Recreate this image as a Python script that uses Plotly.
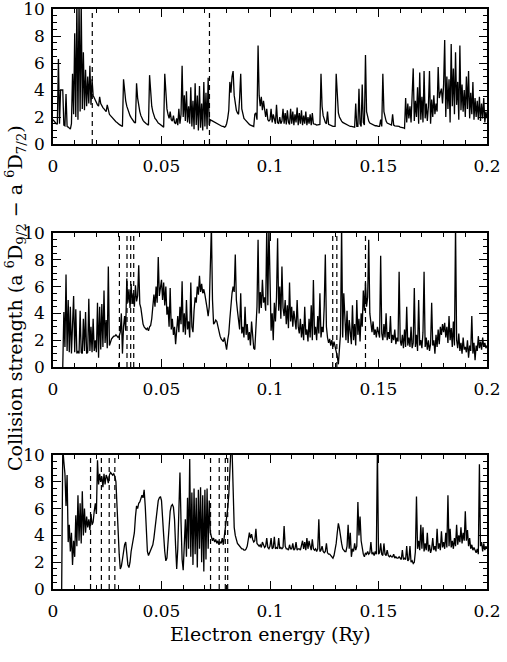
import plotly.graph_objects as go

# Energy mesh (Ry), step 0.0005 from 0 to 0.2
energy = [round(i * 0.0005, 4) for i in range(401)]

# Panel 1 collision strengths
omega_1 = [
    1.8, 1.7, 1.6, 1.5, 1.5, 6.3, 1.5, 4.0, 4.0, 4.0,
    1.4, 1.35, 3.7, 1.3, 1.25, 1.2, 1.1, 1.5, 5.2, 2.2,
    8.2, 2.0, 10.5, 1.8, 10.5, 2.4, 10.5, 2.6, 6.8, 2.5,
    5.5, 2.8, 5.0, 3.0, 5.8, 2.9, 4.8, 3.6, 3.4, 3.2,
    3.0, 2.9, 2.8, 3.5, 3.0, 2.8, 2.7, 2.6, 2.5, 2.4,
    2.9, 2.4, 2.2, 2.1, 2.0, 1.9, 1.8, 1.7, 1.65, 1.6,
    1.5, 1.45, 1.4, 1.35, 1.3, 4.8, 3.9, 3.2, 2.8, 2.5,
    2.3, 2.1, 1.95, 1.8, 1.7, 1.6, 1.55, 4.5, 3.4, 2.8,
    2.4, 2.1, 1.9, 1.75, 1.65, 1.55, 1.5, 1.45, 1.4, 5.1,
    3.6, 2.8, 2.4, 2.1, 1.9, 1.8, 1.65, 1.55, 1.5, 1.45,
    1.4, 1.3, 1.25, 5.2, 3.4, 2.6, 2.2, 1.9, 2.4, 1.8,
    1.7, 2.1, 1.6, 1.5, 1.9, 1.4, 2.6, 1.5, 2.2, 5.8,
    2.0, 3.6, 1.7, 3.9, 1.6, 2.8, 1.5, 4.2, 1.3, 3.2,
    1.1, 4.5, 1.4, 3.6, 1.0, 4.3, 1.2, 3.0, 1.0, 4.6,
    1.3, 3.8, 1.1, 4.9, 1.4, 1.8, 1.75, 1.7, 1.65, 1.6,
    1.55, 1.5, 1.45, 1.4, 1.4, 1.35, 1.3, 1.3, 1.25, 1.3,
    1.5, 1.9, 2.5, 4.6, 3.8, 5.0, 5.4, 3.6, 2.8, 2.5,
    2.3, 2.2, 3.4, 5.2, 2.6, 2.1, 1.9, 1.8, 1.7, 1.6,
    1.5, 1.45, 1.4, 1.35, 1.3, 1.3, 2.2, 2.3, 1.8, 7.3,
    3.6, 2.8, 3.5, 2.5, 3.2, 2.3, 2.0, 2.6, 1.8, 1.7,
    1.8, 2.6, 1.6, 2.2, 1.7, 1.5, 2.9, 1.6, 1.5, 2.0,
    1.5, 1.7, 2.6, 1.5, 2.3, 1.45, 2.5, 1.6, 1.45, 2.6,
    1.5, 2.4, 1.4, 2.2, 1.6, 2.7, 1.4, 2.3, 1.5, 2.5,
    1.4, 2.1, 1.5, 2.4, 1.4, 2.0, 1.5, 2.2, 1.4, 2.3,
    1.5, 1.5, 1.45, 1.4, 1.4, 1.4, 1.45, 5.2, 2.8, 2.1,
    1.8, 1.6, 1.5, 2.4, 1.45, 1.4, 1.35, 1.35, 1.3, 1.3,
    1.3, 5.2, 3.0, 2.3, 2.0, 1.8, 1.7, 1.6, 1.55, 1.5,
    1.45, 1.4, 1.4, 1.35, 1.3, 1.3, 1.3, 1.25, 1.25, 3.0,
    1.3, 1.3, 4.1, 1.5, 1.3, 4.4, 1.6, 1.4, 6.6, 2.4,
    1.9, 1.7, 1.55, 1.5, 1.45, 1.4, 1.4, 1.35, 1.35, 1.3,
    1.3, 1.3, 1.8, 1.3, 5.2, 2.4, 1.9, 1.7, 1.55, 1.5,
    1.45, 1.4, 1.4, 2.2, 1.4, 1.35, 1.35, 1.3, 1.3, 1.3,
    1.25, 1.25, 1.2, 1.2, 1.15, 3.4, 1.6, 3.0, 1.9, 2.8,
    1.6, 3.6, 5.6, 1.7, 3.2, 2.0, 4.2, 1.5, 5.3, 1.8,
    3.5, 1.6, 5.4, 1.9, 3.0, 1.7, 2.8, 5.4, 1.5, 3.3,
    2.0, 3.6, 2.2, 3.0, 2.4, 5.7, 3.4, 3.8, 4.1, 3.0,
    4.4, 7.7, 2.0, 5.0, 2.6, 4.8, 1.6, 7.4, 2.8, 5.6,
    2.2, 6.8, 2.9, 4.6, 1.8, 7.3, 2.5, 4.4, 2.4, 4.0,
    2.0, 5.0, 2.6, 5.4, 1.9, 3.8, 2.2, 4.6, 1.8, 3.4,
    2.0, 3.2, 1.8, 3.5, 1.7, 3.0, 1.9, 3.4, 1.6, 2.4,
    1.9,
]

# Panel 2 collision strengths
omega_2 = [
    None, None, None, None, None, None, None, None, None, 0.0,
    4.1, 1.5, 6.9, 1.2, 5.0, 1.1, 4.5, 1.0, 3.2, 5.3,
    1.1, 4.3, 1.0, 1.2, 1.0, 4.2, 1.1, 1.0, 3.6, 1.2,
    4.1, 1.0, 1.1, 5.1, 1.2, 3.0, 1.1, 3.6, 1.2, 2.0,
    1.1, 4.8, 0.7, 4.5, 1.3, 4.7, 1.5, 5.7, 1.8, 3.5,
    1.4, 7.5, 1.6, 1.9, 2.1, 2.2, 2.3, 2.3, 2.4, 2.3,
    2.2, 2.3, 2.6, 4.0, 1.0, 3.0, 3.8, 2.7, 6.6, 4.8,
    5.8, 4.4, 6.2, 4.7, 5.5, 4.5, 6.1, 4.9, 5.3, 7.6,
    4.7, 4.4, 3.6, 3.2, 3.0, 2.9, 2.8, 2.9, 2.7, 3.0,
    3.1, 3.6, 4.6, 5.4, 4.5, 6.0, 4.8, 8.2, 5.3, 5.9,
    6.5, 5.0, 6.3, 4.6, 6.0, 3.9, 4.5, 3.0, 5.9, 2.8,
    3.6, 2.4, 3.0, 1.7, 2.8, 3.8, 2.6, 4.5, 3.2, 6.4,
    2.6, 4.0, 2.4, 5.0, 2.8, 3.4, 2.2, 6.3, 3.0, 2.6,
    4.2, 5.2, 4.8, 6.0, 5.4, 6.8, 5.6, 6.2, 5.5, 5.8,
    5.4, 5.0, 4.4, 3.8, 4.5, 7.5, 10.5, 5.0, 3.2, 3.3,
    3.5, 3.4, 3.0, 2.6, 2.3, 2.1, 2.0, 1.9, 2.2, 1.6,
    1.3, 2.0, 2.5, 3.6, 4.8, 5.5, 6.0, 5.6, 8.4, 5.0,
    4.2, 3.4, 2.8, 5.5, 2.5, 3.0, 2.2, 4.5, 2.4, 3.2,
    2.0, 2.6, 1.6, 3.4, 1.9, 1.4, 1.3, 3.0, 4.5, 9.5,
    4.0, 5.6, 4.4, 6.5, 4.8, 5.2, 4.2, 10.5, 4.6, 10.5,
    5.0, 2.7, 4.0, 2.0, 4.8, 3.4, 5.2, 9.6, 4.2, 6.0,
    3.6, 7.5, 4.4, 3.8, 5.0, 3.2, 4.6, 2.9, 6.3, 3.4,
    4.5, 3.0, 4.2, 3.5, 2.8, 5.0, 3.0, 2.5, 3.6, 2.2,
    3.2, 2.0, 4.5, 2.4, 2.8, 1.9, 3.6, 2.2, 4.6, 2.0,
    6.5, 2.4, 3.0, 2.0, 3.8, 2.5, 5.5, 2.2, 3.0, 2.6,
    4.6, 8.4, 3.0, 2.2, 1.8, 2.1, 1.6, 2.0, 1.5, 1.9,
    1.6, 1.2, 0.8, 0.2, 1.5, 2.5, 10.5, 2.2, 5.5, 3.0,
    2.0, 4.2, 1.8, 3.5, 2.4, 1.7, 4.6, 2.0, 3.2, 1.6,
    5.0, 2.4, 3.6, 1.9, 4.0, 3.0, 5.7, 4.2, 6.3, 4.5,
    5.2, 9.5, 4.0, 3.0, 2.6, 3.4, 2.4, 2.8, 2.2, 3.0,
    2.4, 2.2, 8.3, 2.5, 2.0, 3.2, 2.2, 4.0, 2.0, 2.6,
    2.1, 3.8, 1.8, 2.4, 2.0, 2.8, 1.7, 2.2, 1.9, 7.1,
    2.0, 1.6, 2.4, 1.4, 2.8, 1.5, 4.5, 1.6, 2.2, 1.5,
    3.0, 1.4, 1.8, 5.9, 1.5, 2.4, 1.2, 5.0, 1.6, 2.0,
    1.4, 2.6, 7.1, 1.5, 2.2, 1.3, 2.0, 1.2, 1.7, 4.8,
    1.6, 2.0, 1.0, 2.4, 1.5, 2.8, 1.7, 3.0, 2.4, 3.2,
    2.6, 3.3, 2.2, 3.0, 1.8, 3.8, 2.0, 2.9, 1.5, 3.4,
    1.6, 10.5, 2.0, 1.4, 2.5, 1.2, 1.8, 1.0, 2.2, 1.3,
    1.5, 1.1, 2.0, 0.7, 1.6, 1.2, 3.8, 1.0, 1.8, 0.5,
    1.6, 1.2, 2.3, 1.4, 1.9, 1.3, 2.2, 1.5, 1.8, 1.4,
    1.6,
]

# Panel 3 collision strengths
omega_3 = [
    None, None, None, None, None, None, None, None, 0.0, 10.5,
    9.5, 8.6, 6.2, 8.5, 3.5, 4.8, 2.8, 4.2, 1.8, 3.6,
    2.4, 5.5, 3.2, 7.0, 3.6, 6.4, 3.4, 7.3, 4.0, 6.0,
    4.2, 5.4, 4.6, 5.2, 4.4, 5.6, 4.8, 5.0, 5.8, 6.4,
    5.6, 9.6, 7.8, 8.6, 8.0, 8.4, 7.6, 8.6, 7.8, 8.5,
    8.3, 7.9, 8.5, 8.7, 8.6, 8.5, 8.6, 8.4, 8.0, 6.0,
    3.8, 2.6, 1.5, 1.7, 2.2, 2.8, 3.3, 3.5, 2.6, 1.8,
    1.6, 2.0, 2.8, 3.3, 3.6, 4.2, 5.4, 6.2, 6.0, 6.4,
    6.5, 6.8, 7.0, 6.8, 7.4, 6.2, 4.0, 2.8, 2.5, 2.7,
    2.9, 3.0, 3.3, 3.8, 4.6, 5.5, 6.2, 6.6, 6.8, 6.9,
    6.6, 5.6, 4.0, 2.8, 2.1, 2.3, 3.5, 5.0, 5.8, 6.2,
    6.3, 6.1, 5.2, 3.2, 1.5, 3.0, 6.0, 8.7, 5.0, 2.2,
    1.4, 3.0, 5.2, 2.4, 6.8, 3.0, 9.7, 2.4, 7.2, 1.8,
    7.5, 2.6, 6.8, 1.6, 7.4, 3.0, 7.6, 2.0, 7.0, 1.3,
    7.4, 2.2, 7.5, 3.0, 6.6, 4.2, 3.8, 3.6, 3.8, 3.5,
    3.7, 3.4, 3.6, 3.3, 3.5, 3.4, 3.8, 3.3, 4.0, 4.6,
    5.0, 6.0, 7.0, 10.5, 10.5, 10.5, 6.5, 4.6, 4.0, 3.6,
    3.4, 3.3, 3.2, 3.1, 3.0, 3.0, 2.9, 2.9, 3.0, 3.2,
    3.6, 4.2, 3.8, 4.1, 3.7, 3.5, 3.6, 4.5, 3.4, 3.3,
    3.2, 3.3, 3.1, 3.5, 3.2, 3.1, 3.2, 3.8, 3.1, 3.0,
    3.2, 3.8, 3.0, 3.1, 3.9, 3.0, 3.1, 3.0, 3.8, 3.0,
    3.1, 3.0, 3.1, 4.7, 3.2, 3.0, 3.0, 2.9, 3.3, 3.0,
    3.0, 3.4, 2.9, 3.0, 3.5, 2.9, 3.0, 3.0, 2.9, 3.3,
    3.6, 3.0, 3.5, 2.9, 3.8, 3.0, 3.6, 3.2, 2.9, 3.7,
    3.0, 2.9, 3.0, 2.8, 3.0, 5.2, 2.8, 2.9, 3.2, 2.8,
    2.7, 2.8, 3.4, 2.7, 2.6, 2.6, 2.5, 2.4, 2.3, 2.5,
    2.9, 3.4, 4.2, 4.9, 4.5, 3.8, 3.4, 3.0, 2.9, 2.8,
    2.8, 3.2, 4.8, 3.0, 4.2, 2.4, 3.0, 2.8, 3.4, 2.9,
    3.2, 6.5, 4.0, 5.4, 3.6, 3.0, 2.6, 2.4, 2.7, 2.6,
    2.8, 2.6, 2.7, 3.5, 2.6, 2.7, 2.5, 2.8, 2.6, 10.5,
    2.6, 2.7, 3.4, 2.6, 2.5, 3.4, 2.6, 2.5, 2.9, 2.5,
    2.4, 2.5, 2.4, 2.4, 2.6, 2.3, 2.4, 2.3, 2.3, 2.4,
    2.3, 2.2, 2.9, 2.2, 2.3, 2.2, 3.2, 2.1, 2.2, 3.2,
    2.0, 2.1, 1.9, 2.0, 2.8, 6.9, 3.0, 3.6, 2.9, 4.8,
    3.0, 4.6, 2.8, 3.4, 2.9, 4.2, 2.8, 3.3, 2.7, 3.0,
    3.8, 2.9, 3.2, 2.8, 4.5, 3.0, 3.4, 2.9, 4.3, 3.1,
    3.5, 3.0, 4.2, 3.1, 7.0, 3.2, 4.5, 3.1, 3.6, 3.0,
    3.8, 3.2, 4.8, 3.3, 4.0, 3.5, 4.6, 3.4, 4.2, 3.6,
    5.8, 3.6, 4.4, 3.2, 3.8, 3.0, 3.3, 2.9, 3.1, 2.8,
    2.7, 3.0, 2.6, 9.3, 3.2, 3.5, 2.8, 3.4, 2.9, 3.2,
    3.0,
]

# Threshold energies (dashed lines)
thresholds_1 = [0.0181, 0.0721]
thresholds_2 = [0.0306, 0.0341, 0.0358, 0.0372, 0.1289, 0.1308, 0.1440]
thresholds_3 = [0.0173, 0.0223, 0.0259, 0.0285, 0.0726, 0.0766, 0.0794, 0.0805]

x_ticks = [0, 0.05, 0.1, 0.15, 0.2]
x_ticklabels = ["0", "0.05", "0.1", "0.15", "0.2"]
y_ticks = [0, 2, 4, 6, 8, 10]

FONT = "DejaVu Serif"
W, H = 507, 662
x_dom = [53 / W, 487 / W]
panel_px = [(9, 144), (233, 367), (455, 589)]
domains = [[1 - b / H, 1 - t / H] for t, b in panel_px]

fig = go.Figure()
series = [omega_1, omega_2, omega_3]
thresholds = [thresholds_1, thresholds_2, thresholds_3]

for k in range(3):
    xa = "x" if k == 0 else f"x{k+1}"
    ya = "y" if k == 0 else f"y{k+1}"
    fig.add_trace(go.Scatter(x=energy, y=series[k], mode="lines",
                             line=dict(color="black", width=1.3),
                             xaxis=xa, yaxis=ya, showlegend=False,
                             connectgaps=False))
    for t in thresholds[k]:
        fig.add_shape(type="line", xref=xa, yref=f"{ya} domain",
                      x0=t, x1=t, y0=0, y1=1,
                      line=dict(color="black", width=1.2, dash="5px,4px"))

axis_common = dict(showgrid=False, zeroline=False, showline=True,
                   linecolor="black", linewidth=1.5, mirror="ticks",
                   ticks="inside", ticklen=8, tickwidth=1, tickcolor="black",
                   automargin=False, ticklabeloverflow="allow",
                   tickfont=dict(family=FONT, size=17, color="black"))

layout = dict(template="none", width=W, height=H,
              margin=dict(l=0, r=0, t=0, b=0, pad=0),
              paper_bgcolor="white", plot_bgcolor="white",
              font=dict(family=FONT, color="black"))
for k in range(3):
    xkey = "xaxis" if k == 0 else f"xaxis{k+1}"
    ykey = "yaxis" if k == 0 else f"yaxis{k+1}"
    xa = "x" if k == 0 else f"x{k+1}"
    ya = "y" if k == 0 else f"y{k+1}"
    layout[xkey] = dict(axis_common, domain=x_dom, range=[0, 0.2],
                        tickvals=x_ticks, ticktext=x_ticklabels, anchor=ya,
                        ticklabelstandoff=6,
                        minor=dict(dtick=0.01, tick0=0, ticks="inside", ticklen=4,
                                   tickwidth=1, tickcolor="black"))
    layout[ykey] = dict(axis_common, domain=domains[k], range=[0, 10],
                        tickvals=y_ticks, anchor=xa, ticklabelstandoff=3,
                        minor=dict(dtick=0.5, tick0=0, ticks="inside", ticklen=4,
                                   tickwidth=1, tickcolor="black"))

fig.update_layout(**layout)

fig.add_annotation(text="Electron energy (Ry)", xref="paper", yref="paper",
                   x=270 / W, y=1 - 634 / H, showarrow=False,
                   xanchor="center", yanchor="middle",
                   font=dict(family=FONT, size=19, color="black"))
fig.add_annotation(
    text="Collision strength (a <sup>6</sup>D<sub>9/2</sub> \u2212 a <sup>6</sup>D<sub>7/2</sub>)",
    xref="paper", yref="paper", x=15 / W, y=1 - 298 / H, showarrow=False,
    xanchor="center", yanchor="middle",
    textangle=-90, font=dict(family=FONT, size=19, color="black"))

fig.write_html("out.html")
